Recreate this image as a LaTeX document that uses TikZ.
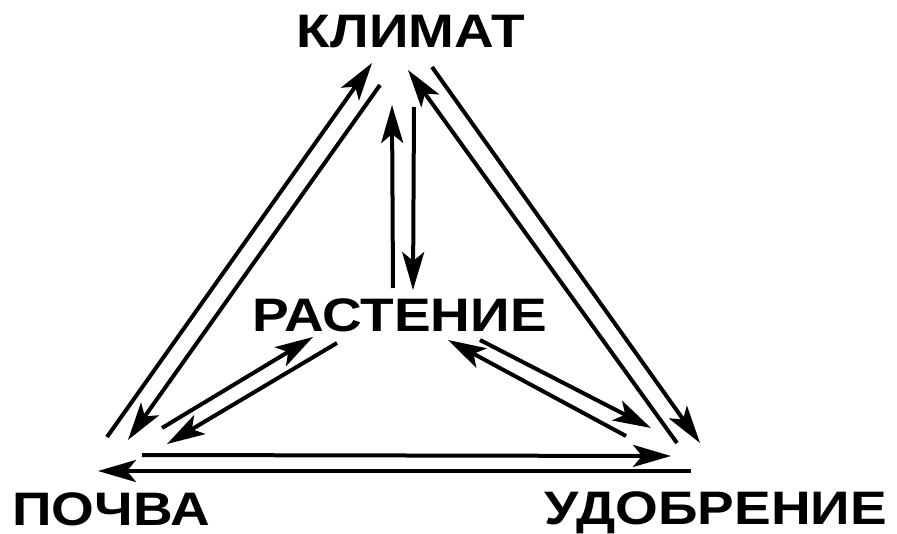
\documentclass[tikz,border=0pt]{standalone}
\usepackage{fontspec}
\setmainfont{Liberation Sans}[FakeStretch=1.17]
\usetikzlibrary{arrows.meta}

\begin{document}
\begin{tikzpicture}[x=1pt,y=-1pt,
		lbl/.style={font=\fontsize{47}{50}\selectfont\bfseries, anchor=base, inner sep=0pt},
		arr/.style={line width=4pt, -{Stealth[length=38pt,width=22pt,inset=9pt]}}]
		\useasboundingbox (0,0) rectangle (897,534);
		\node[lbl] (klimat) at (411,48) {КЛИМАТ};
		\node[lbl] (rastenie) at (399.5,332) {РАСТЕНИЕ};
		\node[lbl] (pochva) at (111,525) {ПОЧВА};
		\node[lbl] (udobrenie) at (716,524) {УДОБРЕНИЕ};
		% line ends
		\coordinate (pk1) at (107,437); \coordinate (kp1) at (372,63);
		\coordinate (kp2) at (380,85);  \coordinate (pk2) at (128,440);
		\coordinate (uk1) at (677,443); \coordinate (ku1) at (408,70);
		\coordinate (ku2) at (432,67);  \coordinate (uk2) at (700,443);
		\coordinate (rk1) at (393,288); \coordinate (kr1) at (392,105);
		\coordinate (kr2) at (414,107); \coordinate (rk2) at (413,290);
		\coordinate (pu1) at (142,455); \coordinate (up1) at (671,456);
		\coordinate (up2) at (691,471); \coordinate (pu2) at (98,471);
		\coordinate (pr1) at (162,428); \coordinate (rp1) at (313,337);
		\coordinate (rp2) at (337,343); \coordinate (pr2) at (167,444);
		\coordinate (ru1) at (480,340); \coordinate (ur1) at (651,428);
		\coordinate (ur2) at (626,436); \coordinate (ru2) at (448,340);
		\foreach \a/\b in {pk1/kp1,kp2/pk2,uk1/ku1,ku2/uk2,rk1/kr1,kr2/rk2,
				pu1/up1,up2/pu2,pr1/rp1,rp2/pr2,ru1/ur1,ur2/ru2}
			\draw[arr] (\a) -- (\b);
	\end{tikzpicture}
\end{document}
